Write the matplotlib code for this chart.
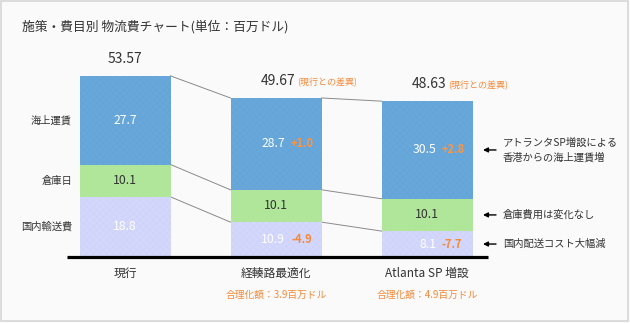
import matplotlib
matplotlib.use("Agg")
import matplotlib.pyplot as plt
from matplotlib.patches import Rectangle

plt.rcParams['font.family'] = ['Noto Sans CJK JP', 'DejaVu Sans']
plt.rcParams['hatch.linewidth'] = 0.3

# ---- data ----
categories = ["現行", "経輳路最適化", "Atlanta SP 増設"]
domestic = [18.8, 10.9, 8.1]      # 国内輸送費
warehouse = [10.1, 10.1, 10.1]    # 倉庫日
ocean = [27.7, 28.7, 30.5]        # 海上運賃
totals = ["53.57", "49.67", "48.63"]
ocean_diff = [None, "+1.0", "+2.8"]
domestic_diff = [None, "-4.9", "-7.7"]
savings = [None, "合理化額：3.9百万ドル", "合理化額：4.9百万ドル"]
seg_names = ["海上運賃", "倉庫日", "国内輸送費"]
notes = ["アトランタSP増設による\n香港からの海上運賃増", "倉庫費用は変化なし", "国内配送コスト大幅減"]

W, H = 630, 323
fig = plt.figure(figsize=(W / 100, H / 100), dpi=100)
fig.patch.set_facecolor("#fafafa")

# layout in pixels (top origin)
X0, DX = 125, 151     # first bar centre, spacing
BASE, S = 257, 3.2    # baseline y, px per unit
ax = fig.add_axes([0, 0, 1, 1])
ax.set_xlim(-X0 / DX, (W - X0) / DX)
ax.set_ylim(-(H - BASE) / S, BASE / S)
ax.axis("off")


def px(x, y):
    """pixel (top origin) -> data coords"""
    return (x - X0) / DX, (BASE - y) / S


BLUE, GREEN, PURPLE = "#68a7da", "#afe699", "#d3d7fb"
ORANGE = "#f5893a"
bw = 91 / DX
xs = list(range(len(categories)))

ax.bar(xs, domestic, width=bw, color=PURPLE, edgecolor="#ccd0f8",
       linewidth=0, hatch="xxxxx", zorder=2)
ax.bar(xs, warehouse, width=bw, bottom=domestic, color=GREEN,
       linewidth=0, zorder=2)
bot2 = [d + w for d, w in zip(domestic, warehouse)]
ax.bar(xs, ocean, width=bw, bottom=bot2, color=BLUE, edgecolor="#62a2d6",
       linewidth=0, hatch="xxxxx", zorder=2)
tops = [b + o for b, o in zip(bot2, ocean)]

# connectors between bars
for i in range(len(xs) - 1):
    for lv in (tops, bot2, domestic):
        ax.plot([xs[i] + bw / 2, xs[i + 1] - bw / 2], [lv[i], lv[i + 1]],
                color="#8a8a8a", lw=0.7, zorder=1)

# baseline
bx0, _ = px(67, 0)
bx1, _ = px(488, 0)
ax.plot([bx0, bx1], [0, 0], color="black", lw=2.3, solid_capstyle="butt", zorder=3)

off = 9 / DX
gap = 15 / DX
for i in xs:
    yb = bot2[i] + ocean[i] / 2
    yg = domestic[i] + warehouse[i] / 2
    yp = domestic[i] / 2
    if ocean_diff[i] is None:
        ax.text(i, yb, f"{ocean[i]}", color="white", fontsize=8.8, ha="center", va="center", zorder=4)
        ax.text(i, yp, f"{domestic[i]}", color="white", fontsize=8.8, ha="center", va="center", zorder=4)
    else:
        ax.text(i + off, yb, f"{ocean[i]}", color="white", fontsize=8.8, ha="right", va="center", zorder=4)
        ax.text(i + gap, yb, ocean_diff[i], color="#ff9440", fontsize=8, ha="left", va="center",
                fontweight="bold", zorder=4)
        ax.text(i + off, yp, f"{domestic[i]}", color="white", fontsize=8.8, ha="right", va="center", zorder=4)
        ax.text(i + gap, yp, domestic_diff[i], color=ORANGE, fontsize=8, ha="left", va="center",
                fontweight="bold", zorder=4)
    ax.text(i, yg, f"{warehouse[i]}", color="#333333", fontsize=8.8, ha="center", va="center", zorder=4)

    # totals
    if i == 0:
        ax.annotate(totals[i], (i, tops[i]), xytext=(0, 10), textcoords="offset pixels",
                    ha="center", va="bottom", fontsize=10, color="#333333")
    else:
        ax.annotate(totals[i], (i + 19 / DX, tops[i]), xytext=(0, 10), textcoords="offset pixels",
                    ha="right", va="bottom", fontsize=10, color="#333333")
        ax.annotate("(現行との差異)", (i + 21 / DX, tops[i]), xytext=(0, 11), textcoords="offset pixels",
                    ha="left", va="bottom", fontsize=6.5, color=ORANGE)

    # category labels
    _, yc = px(0, 273)
    ax.text(i, yc, categories[i], fontsize=8.5, ha="center", va="center", color="#333333")
    if savings[i]:
        _, ys = px(0, 295)
        ax.text(i, ys, savings[i], fontsize=7, ha="center", va="center", color=ORANGE)

# left segment names (bar 1)
lx, _ = px(72, 0)
seg_y0 = [bot2[0] + ocean[0] / 2, domestic[0] + warehouse[0] / 2, domestic[0] / 2]
for name, y in zip(seg_names, seg_y0):
    ax.text(lx, y, name, fontsize=7.4, ha="right", va="center", color="#333333")

# right notes (bar 3)
seg_y2 = [bot2[2] + ocean[2] / 2, domestic[2] + warehouse[2] / 2, domestic[2] / 2]
ax0, _ = px(483, 0)
ax1, _ = px(496, 0)
tx, _ = px(503, 0)
for note, y in zip(notes, seg_y2):
    ax.annotate("", xy=(ax0, y), xytext=(ax1, y),
                arrowprops=dict(arrowstyle="-|>", color="black", lw=1.0,
                                mutation_scale=7, shrinkA=0, shrinkB=0))
    ax.text(tx, y, note, fontsize=7.4, ha="left", va="center", color="#333333", linespacing=1.45)

# title
fig.text(22 / W, 1 - 27 / H, "施策・費目別 物流費チャート(単位：百万ドル)",
         fontsize=9.2, ha="left", va="center", color="#333333")

# frame
fig.patches.append(Rectangle((1 / W, 2 / H), 1 - 3 / W, 1 - 3 / H, transform=fig.transFigure,
                             fill=False, edgecolor="#d6d6d6", lw=1.2))

fig.savefig("out.png", dpi=100, facecolor=fig.get_facecolor())
